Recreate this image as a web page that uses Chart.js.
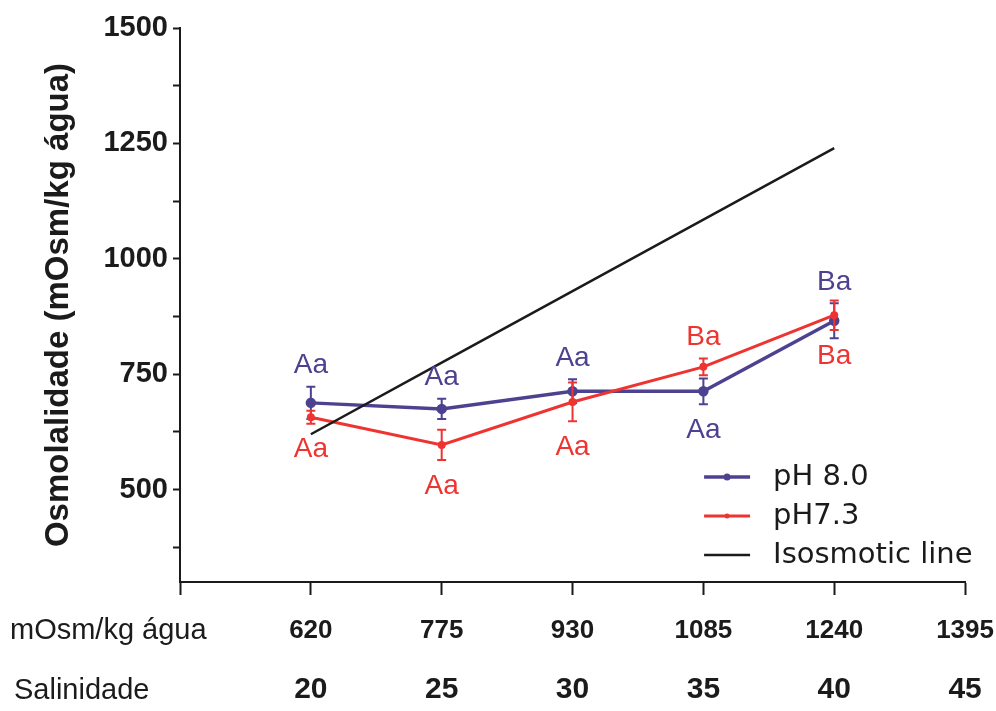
<!DOCTYPE html>
<html>
<head>
<meta charset="utf-8">
<script src="https://cdn.jsdelivr.net/npm/chart.js@4/dist/chart.umd.min.js"></script>
<style>
    html, body { margin: 0; padding: 0; background: #fff; }
    #wrap { width: 996px; height: 711px; }
</style>
</head>
<body>
<div id="wrap"><canvas id="osmChart" width="996" height="711"></canvas></div>
<script>
// salinity on x, osmolality on y
const salinity = [20, 25, 30, 35, 40];
const salinityTicks = [20, 25, 30, 35, 40, 45];
const osmTickLabels = ['620', '775', '930', '1085', '1240', '1395'];
const yTickValues = [375, 500, 625, 750, 875, 1000, 1125, 1250, 1375, 1500];

const ph80Values = [688, 675, 713, 713, 866];
const ph80Errors = [35, 22, 26, 28, 38];
const ph80Letters = ['Aa', 'Aa', 'Aa', 'Aa', 'Ba'];
const ph80LetterSide = ['above', 'above', 'above', 'below', 'above'];

const ph73Values = [657, 597, 690, 766, 878];
const ph73Errors = [14, 33, 42, 18, 32];
const ph73Letters = ['Aa', 'Aa', 'Aa', 'Ba', 'Ba'];
const ph73LetterSide = ['below', 'below', 'below', 'above', 'below'];

const isosmoticValues = [620, 775, 930, 1085, 1240];

const PURPLE = '#4c4290';
const RED = '#ee3431';
const BLACK = '#1b1b1b';

function toPoints(values) {
    return salinity.map((s, i) => ({ x: s, y: values[i] }));
}

const errorBars = {
    id: 'errorBars',
    afterDatasetDraw(chart, args) {
        const ds = chart.data.datasets[args.index];
        if (!ds.errors) return;
        const { ctx, scales: { x, y } } = chart;
        ctx.save();
        ctx.strokeStyle = ds.borderColor;
        ctx.lineWidth = 2;
        ds.data.forEach((p, i) => {
            const px = x.getPixelForValue(p.x);
            const top = y.getPixelForValue(p.y + ds.errors[i]);
            const bot = y.getPixelForValue(p.y - ds.errors[i]);
            ctx.beginPath();
            ctx.moveTo(px, top); ctx.lineTo(px, bot);
            ctx.moveTo(px - 4.5, top); ctx.lineTo(px + 4.5, top);
            ctx.moveTo(px - 4.5, bot); ctx.lineTo(px + 4.5, bot);
            ctx.stroke();
        });
        ctx.restore();
    },
    afterDatasetsDraw(chart) {
        const { ctx, scales: { x, y } } = chart;
        ctx.save();
        ctx.font = '28px "Liberation Sans", Arial, sans-serif';
        ctx.textAlign = 'center';
        ctx.textBaseline = 'middle';
        chart.data.datasets.forEach(ds => {
            if (!ds.letters) return;
            ctx.fillStyle = ds.borderColor;
            ds.data.forEach((p, i) => {
                const up = ds.letterSide[i] === 'above';
                const end = y.getPixelForValue(p.y + (up ? 1 : -1) * ds.errors[i]);
                ctx.fillText(ds.letters[i], x.getPixelForValue(p.x), end + (up ? -21 : 26));
            });
        });
        ctx.restore();
    }
};

const insideLegend = {
    id: 'insideLegend',
    afterDraw(chart) {
        const { ctx, chartArea } = chart;
        const x0 = chartArea.right - 261;
        const y0 = chartArea.bottom - 105;
        ctx.save();
        chart.data.datasets.forEach((ds, i) => {
            const yy = y0 + i * 39;
            ctx.strokeStyle = ds.borderColor;
            ctx.lineWidth = ds.borderWidth;
            ctx.beginPath();
            ctx.moveTo(x0, yy);
            ctx.lineTo(x0 + 46, yy);
            ctx.stroke();
            if (ds.pointRadius) {
                ctx.fillStyle = ds.borderColor;
                ctx.beginPath();
                ctx.arc(x0 + 23, yy, ds.pointRadius, 0, Math.PI * 2);
                ctx.fill();
            }
            ctx.fillStyle = BLACK;
            ctx.font = '29px "DejaVu Sans", sans-serif';
            ctx.textAlign = 'left';
            ctx.textBaseline = 'middle';
            ctx.fillText(ds.label, x0 + 69, yy);
        });
        // row captions for the two x label rows
        ctx.fillStyle = BLACK;
        ctx.font = '29px "Liberation Sans", Arial, sans-serif';
        ctx.textAlign = 'left';
        ctx.textBaseline = 'middle';
        ctx.fillText('mOsm/kg água', 10, chart.scales.x.top + 49);
        ctx.fillText('Salinidade', 14, chart.scales.x2.top + 37);
        ctx.restore();
    }
};

const ctx = document.getElementById('osmChart').getContext('2d');
const tickSet = s => { s.ticks = [15].concat(salinityTicks).map(v => ({ value: v })); };

new Chart(ctx, {
    type: 'line',
    data: {
        datasets: [{
            label: 'pH 8.0',
            data: toPoints(ph80Values),
            errors: ph80Errors,
            letters: ph80Letters,
            letterSide: ph80LetterSide,
            borderColor: PURPLE,
            backgroundColor: PURPLE,
            borderWidth: 3.5,
            pointRadius: 3.5,
            order: 2
        }, {
            label: 'pH7.3',
            data: toPoints(ph73Values),
            errors: ph73Errors,
            letters: ph73Letters,
            letterSide: ph73LetterSide,
            borderColor: RED,
            backgroundColor: RED,
            borderWidth: 3,
            pointRadius: 2.5,
            order: 1
        }, {
            label: 'Isosmotic line',
            data: toPoints(isosmoticValues),
            borderColor: BLACK,
            backgroundColor: BLACK,
            borderWidth: 2.5,
            pointRadius: 0,
            order: 0
        }]
    },
    options: {
        responsive: false,
        animation: false,
        devicePixelRatio: 1,
        layout: { padding: { top: 28, right: 12, left: 0, bottom: 0 } },
        elements: { line: { tension: 0 } },
        plugins: {
            legend: { display: false },
            tooltip: { enabled: false }
        },
        scales: {
            x: {
                type: 'linear',
                position: 'bottom',
                weight: 0,
                min: 15,
                max: 45,
                afterBuildTicks: tickSet,
                afterFit: s => { s.height = 72; },
                grid: { drawOnChartArea: false, drawTicks: true, tickLength: 13, tickWidth: 2, color: BLACK },
                border: { display: true, width: 2, color: BLACK },
                ticks: {
                    color: BLACK,
                    padding: 2,
                    maxRotation: 0,
                    autoSkip: false,
                    font: { family: '"Liberation Sans", Arial', weight: 'bold', size: 26, lineHeight: 2.6 },
                    callback: v => {
                        const i = salinityTicks.indexOf(v);
                        return i < 0 ? '' : osmTickLabels[i];
                    }
                }
            },
            x2: {
                type: 'linear',
                position: 'bottom',
                weight: 1,
                min: 15,
                max: 45,
                afterBuildTicks: tickSet,
                afterFit: s => { s.height = 57; },
                grid: { display: false, drawTicks: false },
                border: { display: false },
                ticks: {
                    color: BLACK,
                    padding: 0,
                    maxRotation: 0,
                    autoSkip: false,
                    font: { family: '"Liberation Sans", Arial', weight: 'bold', size: 30, lineHeight: 2.4 },
                    callback: v => salinityTicks.includes(v) ? String(v) : ''
                }
            },
            y: {
                min: 300,
                max: 1500,
                afterBuildTicks: s => { s.ticks = yTickValues.map(v => ({ value: v })); },
                afterFit: s => { s.width = 180; },
                grid: { drawOnChartArea: false, drawTicks: true, tickLength: 7, tickWidth: 2, color: BLACK },
                border: { display: true, width: 2, color: BLACK },
                ticks: {
                    color: BLACK,
                    padding: 5,
                    autoSkip: false,
                    font: { family: '"Liberation Sans", Arial', weight: 'bold', size: 29 },
                    callback: v => v % 250 === 0 ? String(v) : ''
                },
                title: {
                    display: true,
                    text: 'Osmolalidade (mOsm/kg água)',
                    color: BLACK,
                    font: { family: '"Liberation Sans", Arial', weight: 'bold', size: 33 },
                    padding: { top: 39, bottom: 0 }
                }
            }
        }
    },
    plugins: [errorBars, insideLegend]
});
</script>
</body>
</html>
